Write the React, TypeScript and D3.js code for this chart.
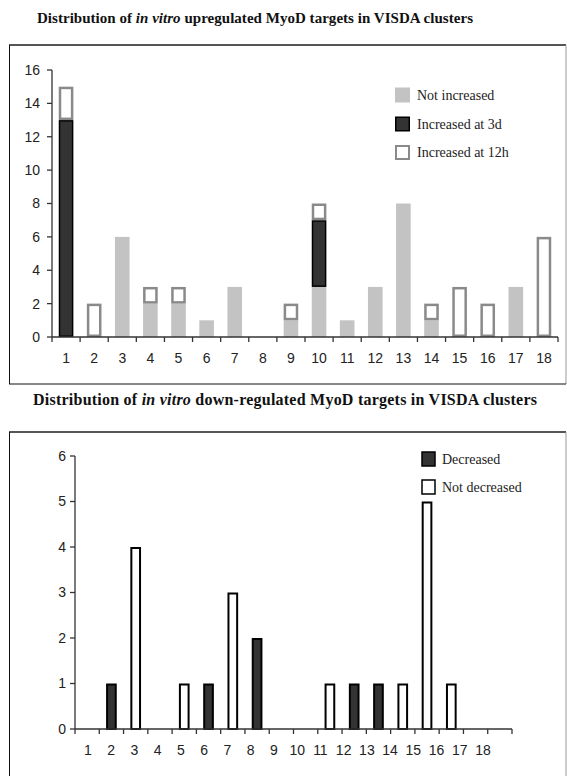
import React from "react";
import * as d3 from "d3";

// ---------- Data ----------
const clusters = d3.range(1, 19);
// upregulated chart (stack order bottom -> top)
const notIncreased = [0, 0, 6, 2, 2, 1, 3, 0, 1, 3, 1, 3, 8, 1, 0, 0, 3, 0];
const increased3d = [13, 0, 0, 0, 0, 0, 0, 0, 0, 4, 0, 0, 0, 0, 0, 0, 0, 0];
const increased12h = [2, 2, 0, 1, 1, 0, 0, 0, 1, 1, 0, 0, 0, 1, 3, 2, 0, 6];
const upTicks = [0, 2, 4, 6, 8, 10, 12, 14, 16];

// downregulated chart
const downClusters = [2, 3, 5, 6, 7, 8, 11, 12, 13, 14, 15, 16];
const downValues = [1, 4, 1, 1, 3, 2, 1, 1, 1, 1, 5, 1];
const downType = ["D", "N", "N", "D", "N", "D", "N", "D", "D", "N", "N", "N"];
const downTicks = [0, 1, 2, 3, 4, 5, 6];

const title1a = "Distribution of ";
const title1b = "in vitro";
const title1c = " upregulated MyoD targets in VISDA clusters";
const title2c = " down-regulated MyoD targets in VISDA clusters";
const upLegend = ["Not increased", "Increased at 3d", "Increased at 12h"];
const downLegend = ["Decreased", "Not decreased"];

const GRAY = "#c3c3c3";
const DARK = "#333333";
const OUT = "#8a8a8a";
const AX = "#333";

export default function App() {
  // ---- top chart scales
  const xU = d3.scaleBand<number>().domain(clusters).range([52, 558]).paddingInner(0.48).paddingOuter(0.24);
  const yU = d3.scaleLinear().domain([0, 16]).range([337, 70]);
  const stepU = xU.step();
  const boundsU = d3.range(0, 19).map((i) => 52 + i * stepU);

  // ---- bottom chart scales
  const xD = d3.scaleBand<number>().domain(clusters).range([75, 512]).paddingInner(0.56).paddingOuter(0.28);
  const xDLabel = d3.scaleBand<number>().domain(clusters).range([76.4, 494.7]);
  const yD = d3.scaleLinear().domain([0, 6]).range([729, 456]);
  const stepD = xD.step();
  const boundsD = d3.range(0, 19).map((i) => 75 + i * stepD);

  const sans = "'Liberation Sans', Arial, sans-serif";
  const serif = "'Liberation Serif', 'Times New Roman', serif";

  const upBars: JSX.Element[] = [];
  clusters.forEach((c, i) => {
    const x = xU(c)!;
    const w = xU.bandwidth();
    let base = 0;
    const g = notIncreased[i];
    if (g > 0) {
      upBars.push(<rect key={`g${c}`} x={x} y={yU(base + g)} width={w} height={yU(base) - yU(base + g)} fill={GRAY} />);
      base += g;
    }
    const d = increased3d[i];
    if (d > 0) {
      upBars.push(
        <rect key={`d${c}`} x={x + 0.75} y={yU(base + d) + 0.75} width={w - 1.5} height={yU(base) - yU(base + d) - 1.5} fill={DARK} stroke="#000" strokeWidth={1.5} />
      );
      base += d;
    }
    const o = increased12h[i];
    if (o > 0) {
      upBars.push(
        <rect key={`o${c}`} x={x + 1.25} y={yU(base + o) + 1.25} width={w - 2.5} height={yU(base) - yU(base + o) - 2.5} fill="#fff" stroke={OUT} strokeWidth={2.5} />
      );
      base += o;
    }
  });

  return (
    <svg width={567} height={776} style={{ position: "absolute", left: 0, top: 0, background: "#fff" }}>
      <rect x={0} y={0} width={567} height={776} fill="#fff" />
      {/* ---------- Top title ---------- */}
      <text x={37} y={23} fontFamily={serif} fontWeight="bold" fontSize={15} fill="#111" textLength={436} lengthAdjust="spacing">
        {title1a}
        <tspan fontStyle="italic">{title1b}</tspan>
        {title1c}
      </text>
      {/* top frame */}
      <line x1={9} x2={566} y1={45} y2={45} stroke="#555" strokeWidth={2} />
      <line x1={9.5} x2={9.5} y1={45} y2={384} stroke="#111" strokeWidth={1} />
      <line x1={566} x2={566} y1={45} y2={384} stroke="#999" strokeWidth={1} />
      <line x1={9} x2={566} y1={384} y2={384} stroke="#111" strokeWidth={1} />

      {/* top bars */}
      {upBars}

      {/* top axes */}
      <line x1={52} x2={52} y1={yU(16)} y2={yU(0)} stroke={AX} strokeWidth={1.3} />
      <line x1={52} x2={558} y1={yU(0)} y2={yU(0)} stroke={AX} strokeWidth={1.3} />
      {upTicks.map((t) => (
        <g key={`yt${t}`}>
          <line x1={47} x2={52} y1={yU(t)} y2={yU(t)} stroke={AX} strokeWidth={1.3} />
          <text x={40} y={yU(t)} dy="0.35em" textAnchor="end" fontFamily={sans} fontSize={14} fill="#222">
            {t}
          </text>
        </g>
      ))}
      {boundsU.map((b, i) => (
        <line key={`xt${i}`} x1={b} x2={b} y1={yU(0)} y2={yU(0) + 5} stroke={AX} strokeWidth={1.3} />
      ))}
      {clusters.map((c) => (
        <text key={`xl${c}`} x={xU(c)! + xU.bandwidth() / 2} y={358} dy="0.35em" textAnchor="middle" fontFamily={sans} fontSize={14} fill="#222">
          {c}
        </text>
      ))}

      {/* top legend */}
      {upLegend.map((l, i) => {
        const ys = [95, 124, 152];
        const y = ys[i];
        return (
          <g key={l}>
            {i === 0 && <rect x={395} y={y - 7.5} width={15} height={15} fill={GRAY} />}
            {i === 1 && <rect x={395.75} y={y - 6.75} width={13.5} height={13.5} fill={DARK} stroke="#000" strokeWidth={1.5} />}
            {i === 2 && <rect x={396} y={y - 6} width={13} height={13} fill="#fff" stroke={OUT} strokeWidth={2} />}
            <text x={417} y={y} dy="0.35em" fontFamily={serif} fontSize={14} fill="#222">
              {l}
            </text>
          </g>
        );
      })}

      {/* ---------- Bottom title ---------- */}
      <text x={33} y={405} fontFamily={serif} fontWeight="bold" fontSize={16} fill="#111" textLength={504} lengthAdjust="spacing">
        {title1a}
        <tspan fontStyle="italic">{title1b}</tspan>
        {title2c}
      </text>
      {/* bottom frame */}
      <line x1={9} x2={566} y1={432} y2={432} stroke="#555" strokeWidth={2} />
      <line x1={9.5} x2={9.5} y1={432} y2={776} stroke="#111" strokeWidth={1} />
      <line x1={566} x2={566} y1={432} y2={776} stroke="#999" strokeWidth={1} />

      {/* bottom bars */}
      {downClusters.map((c, i) => {
        const x = xD(c)!;
        const w = xD.bandwidth();
        const v = downValues[i];
        return (
          <rect
            key={`db${c}`}
            x={x + 1}
            y={yD(v) + 1}
            width={w - 2}
            height={yD(0) - yD(v) - 1}
            fill={downType[i] === "D" ? DARK : "#fff"}
            stroke="#000"
            strokeWidth={2}
          />
        );
      })}

      {/* bottom axes */}
      <line x1={75} x2={75} y1={yD(6)} y2={yD(0)} stroke={AX} strokeWidth={1.3} />
      <line x1={75} x2={512} y1={yD(0)} y2={yD(0)} stroke={AX} strokeWidth={1.3} />
      {downTicks.map((t) => (
        <g key={`dyt${t}`}>
          <line x1={70} x2={75} y1={yD(t)} y2={yD(t)} stroke={AX} strokeWidth={1.3} />
          <text x={66} y={yD(t)} dy="0.35em" textAnchor="end" fontFamily={sans} fontSize={14} fill="#222">
            {t}
          </text>
        </g>
      ))}
      {boundsD.map((b, i) => (
        <line key={`dxt${i}`} x1={b} x2={b} y1={yD(0)} y2={yD(0) + 5} stroke={AX} strokeWidth={1.3} />
      ))}
      {clusters.map((c) => (
        <text key={`dxl${c}`} x={xDLabel(c)! + xDLabel.bandwidth() / 2} y={750} dy="0.35em" textAnchor="middle" fontFamily={sans} fontSize={14} fill="#222">
          {c}
        </text>
      ))}

      {/* bottom legend */}
      {downLegend.map((l, i) => {
        const y = [459, 487][i];
        return (
          <g key={l}>
            <rect x={422} y={y - 7} width={13} height={14} fill={i === 0 ? DARK : "#fff"} stroke="#000" strokeWidth={1.5} />
            <text x={442} y={y} dy="0.35em" fontFamily={serif} fontSize={14} fill="#222">
              {l}
            </text>
          </g>
        );
      })}
    </svg>
  );
}
